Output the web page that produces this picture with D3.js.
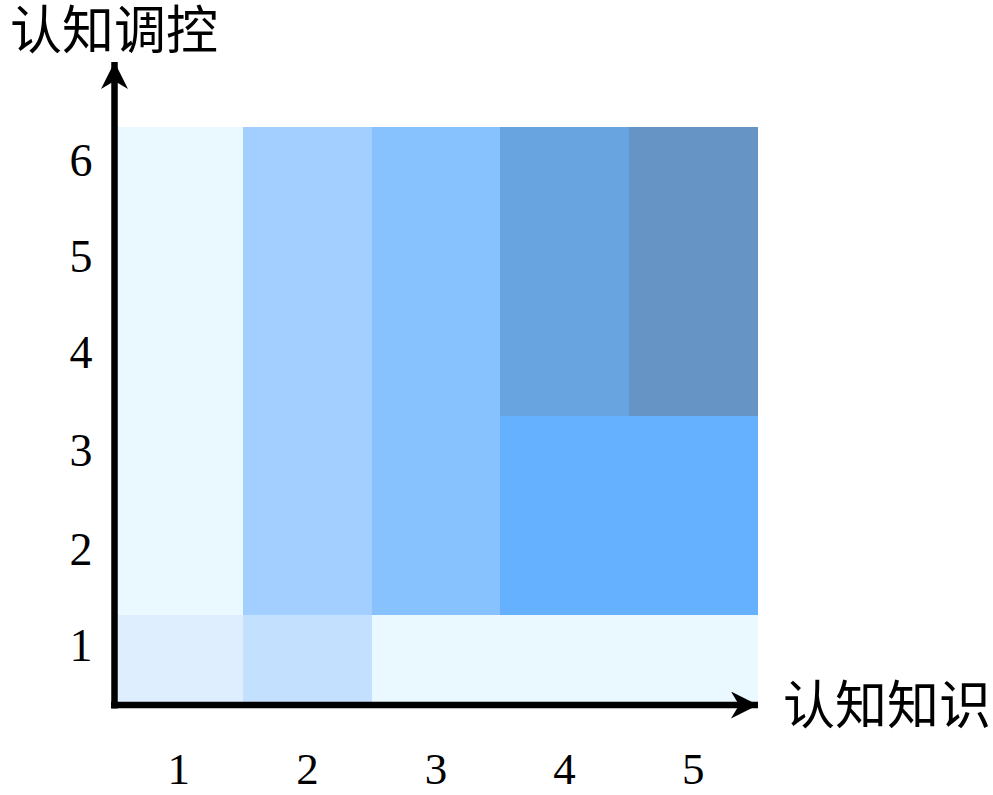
<!DOCTYPE html>
<html>
<head>
<meta charset="utf-8">
<script src="https://cdn.jsdelivr.net/npm/d3@7"></script>
<style>
  html, body { margin: 0; padding: 0; background: #fff; }
  svg { display: block; }
</style>
</head>
<body>
<svg id="chart" width="993" height="795"></svg>
<script>
// ---- data ----
const xCategories = [1, 2, 3, 4, 5];
const yCategories = [1, 2, 3, 4, 5, 6];
const xTickLabels = ["1", "2", "3", "4", "5"];
const yTickLabels = ["1", "2", "3", "4", "5", "6"];
const xAxisTitle = "认知知识";
const yAxisTitle = "认知调控";
// level of each cell, rows = y 1..6, columns = x 1..5
const cellLevels = [
  [1, 3, 0, 0, 0],
  [0, 4, 5, 6, 6],
  [0, 4, 5, 6, 6],
  [0, 4, 5, 7, 8],
  [0, 4, 5, 7, 8],
  [0, 4, 5, 7, 8]
];
const levelColors = ["#eaf8ff", "#deeeff", "#d0e8ff", "#c3e1ff", "#a2cfff", "#87c2ff", "#66b1ff", "#68a4e0", "#6694c4"];

// ---- drawing ----
const svg = d3.select("#chart");

const x = d3.scaleLinear().domain([0.5, 5.5]).range([114.5, 757.5]);
const y = d3.scaleLinear().domain([0.34, 1.34, 3.34, 6.34]).range([702, 615, 415.5, 127]);
const color = d3.scaleOrdinal().domain(d3.range(levelColors.length)).range(levelColors);
const cellTop = 0.34, cellBottom = 0.66;

const cells = [];
yCategories.forEach((yc, i) => {
  xCategories.forEach((xc, j) => {
    cells.push({ x: xc, y: yc, level: cellLevels[i][j] });
  });
});

svg.append("g")
  .selectAll("rect")
  .data(cells)
  .join("rect")
  .attr("x", d => x(d.x - 0.5))
  .attr("width", d => x(d.x + 0.5) - x(d.x - 0.5))
  .attr("y", d => y(d.y + cellTop))
  .attr("height", d => y(d.y - cellBottom) - y(d.y + cellTop))
  .attr("fill", d => color(d.level))
  .attr("shape-rendering", "crispEdges");

// arrow markers
const defs = svg.append("defs");
defs.append("marker")
  .attr("id", "arrow")
  .attr("viewBox", "0 0 10 10")
  .attr("refX", 10).attr("refY", 5)
  .attr("markerUnits", "userSpaceOnUse")
  .attr("markerWidth", 27).attr("markerHeight", 27)
  .attr("orient", "auto")
  .append("path")
  .attr("d", "M0,0 L10,5 L0,10 L3,5 Z")
  .attr("fill", "#000");

// axes lines
const x0 = x(0.5), yBase = 705;
svg.append("line")
  .attr("x1", x0 - 3.5).attr("y1", yBase)
  .attr("x2", 758).attr("y2", yBase)
  .attr("stroke", "#000").attr("stroke-width", 6.5)
  .attr("marker-end", "url(#arrow)");
svg.append("line")
  .attr("x1", x0).attr("y1", yBase + 3.5)
  .attr("x2", x0).attr("y2", 62)
  .attr("stroke", "#000").attr("stroke-width", 6.5)
  .attr("marker-end", "url(#arrow)");

// tick labels
svg.append("g")
  .selectAll("text")
  .data(xCategories)
  .join("text")
  .attr("x", d => x(d))
  .attr("y", 784)
  .attr("text-anchor", "middle")
  .attr("font-family", "'Liberation Serif', 'Times New Roman', serif")
  .attr("font-size", 45)
  .attr("fill", "#000")
  .text((d, i) => xTickLabels[i]);

svg.append("g")
  .selectAll("text")
  .data(yCategories)
  .join("text")
  .attr("x", 81)
  .attr("y", d => y(d))
  .attr("dy", "0.35em")
  .attr("text-anchor", "middle")
  .attr("font-family", "'Liberation Serif', 'Times New Roman', serif")
  .attr("font-size", 46)
  .attr("fill", "#000")
  .text((d, i) => yTickLabels[i]);

// axis titles
svg.append("text")
  .attr("x", 10).attr("y", 49)
  .attr("font-family", "'Noto Sans CJK SC', sans-serif")
  .attr("font-size", 52)
  .attr("fill", "#000")
  .text(yAxisTitle);

svg.append("text")
  .attr("x", 783).attr("y", 724)
  .attr("font-family", "'Noto Sans CJK SC', sans-serif")
  .attr("font-size", 52)
  .attr("fill", "#000")
  .text(xAxisTitle);
</script>
</body>
</html>
